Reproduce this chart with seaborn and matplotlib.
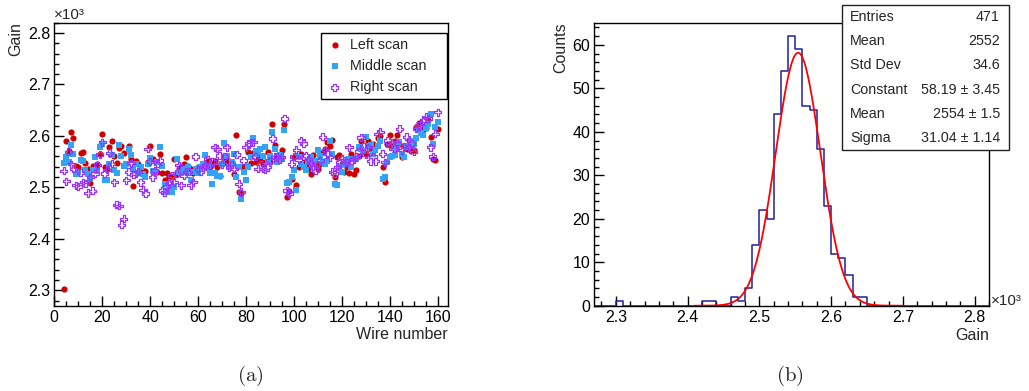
import numpy as np
import pandas as pd
import matplotlib
matplotlib.use("Agg")
import matplotlib.pyplot as plt
import seaborn as sns
from matplotlib.ticker import MultipleLocator, FuncFormatter
from matplotlib.patches import Rectangle

# ---------------- data ----------------
wires = list(range(4, 161))

left_gain = [
    2302, 2590, 2570, 2607, 2596, 2541, 2539, 2566, 2569, 2548, 2536, 2508, 2541, 2540, 2545, 2564, 2604,
    2539, 2535, 2578, 2590, 2560, 2547, 2577, 2580, 2567, 2545, 2580, 2556, 2503, 2551, 2545, 2530, 2532,
    2532, 2550, 2581, 2556, 2530, 2530, 2564, 2527, 2515, 2527, 2522, 2520, 2556, 2525, 2536, 2540, 2545,
    2559, 2541, 2535, 2527, 2535, 2539, 2540, 2545, 2548, 2552, 2540, 2546, 2551, 2540, 2523, 2547, 2559,
    2549, 2552, 2549, 2525, 2601, 2491, 2489, 2540, 2541, 2569, 2547, 2567, 2549, 2555, 2554, 2545, 2549,
    2569, 2549, 2624, 2582, 2560, 2556, 2573, 2624, 2481, 2493, 2517, 2559, 2505, 2540, 2564, 2550, 2543,
    2535, 2525, 2562, 2550, 2536, 2545, 2569, 2575, 2588, 2580, 2593, 2520, 2559, 2562, 2545, 2530, 2540,
    2527, 2564, 2525, 2534, 2560, 2591, 2570, 2565, 2591, 2575, 2585, 2580, 2595, 2599, 2539, 2510, 2585,
    2601, 2580, 2591, 2601, 2585, 2559, 2580, 2575, 2593, 2570, 2572, 2617, 2625, 2610, 2614, 2616, 2630,
    2598, 2556, 2554, 2614,
]

middle_gain = [
    2548, 2559, 2549, 2582, 2564, 2525, 2530, 2554, 2552, 2533, 2525, 2517, 2534, 2559, 2532, 2578, 2585,
    2514, 2515, 2546, 2562, 2534, 2528, 2582, 2560, 2541, 2546, 2575, 2562, 2535, 2546, 2527, 2539, 2525,
    2520, 2545, 2558, 2532, 2527, 2550, 2578, 2541, 2507, 2491, 2500, 2491, 2500, 2556, 2530, 2527, 2535,
    2530, 2540, 2515, 2530, 2535, 2527, 2540, 2545, 2562, 2540, 2527, 2507, 2527, 2523, 2523, 2545, 2586,
    2560, 2539, 2550, 2565, 2521, 2540, 2478, 2530, 2515, 2540, 2559, 2595, 2570, 2564, 2575, 2560, 2578,
    2550, 2561, 2608, 2575, 2549, 2562, 2555, 2612, 2508, 2510, 2520, 2534, 2494, 2559, 2545, 2540, 2534,
    2550, 2559, 2545, 2552, 2572, 2560, 2550, 2546, 2552, 2591, 2565, 2507, 2504, 2540, 2530, 2545, 2549,
    2555, 2539, 2556, 2556, 2578, 2575, 2570, 2598, 2580, 2582, 2565, 2572, 2580, 2591, 2517, 2520, 2550,
    2559, 2560, 2562, 2575, 2588, 2565, 2559, 2578, 2580, 2591, 2585, 2595, 2611, 2605, 2601, 2615, 2624,
    2642, 2585, 2617, 2627,
]

right_gain = [
    2532, 2512, 2569, 2545, 2536, 2504, 2502, 2528, 2510, 2508, 2489, 2520, 2493, 2527, 2543, 2564, 2588,
    2527, 2534, 2567, 2546, 2510, 2466, 2464, 2427, 2439, 2514, 2530, 2547, 2525, 2527, 2530, 2510, 2495,
    2488, 2575, 2550, 2520, 2533, 2546, 2552, 2494, 2491, 2502, 2508, 2523, 2510, 2527, 2543, 2504, 2523,
    2530, 2530, 2504, 2510, 2560, 2535, 2530, 2539, 2540, 2554, 2543, 2550, 2578, 2575, 2562, 2545, 2560,
    2578, 2539, 2545, 2536, 2564, 2507, 2491, 2552, 2578, 2585, 2588, 2588, 2560, 2536, 2545, 2536, 2534,
    2539, 2552, 2595, 2559, 2560, 2554, 2559, 2634, 2494, 2488, 2546, 2560, 2573, 2554, 2591, 2585, 2562,
    2555, 2547, 2540, 2532, 2545, 2552, 2598, 2572, 2565, 2559, 2530, 2527, 2540, 2549, 2556, 2552, 2549,
    2578, 2552, 2555, 2559, 2570, 2597, 2580, 2564, 2578, 2551, 2560, 2551, 2604, 2608, 2565, 2549, 2591,
    2580, 2588, 2575, 2585, 2614, 2572, 2580, 2598, 2578, 2585, 2569, 2614, 2620, 2624, 2630, 2637, 2634,
    2578, 2560, 2604, 2646,
]

series_names = ["Left scan", "Middle scan", "Right scan"]

# histogram (bin width 10, range 2270-2820): low edges of non-empty bins and their counts
hist_bin_low = [2300, 2420, 2430, 2460, 2470, 2480, 2490, 2500, 2510, 2520, 2530,
                2540, 2550, 2560, 2570, 2580, 2590, 2600, 2610, 2620, 2630, 2640]
hist_counts = [1, 1, 1, 2, 1, 4, 14, 22, 20, 44, 54,
               62, 59, 46, 45, 36, 23, 12, 11, 7, 2, 2]
hist_min, hist_max, hist_width = 2270, 2820, 10

# fit parameters
fit_constant, fit_mean, fit_sigma = 58.19, 2554.0, 31.04
fit_lo, fit_hi = 2410, 2700

stats_labels = ["Entries", "Mean", "Std Dev", "Constant", "Mean", "Sigma"]
stats_values = ["471", "2552", "34.6", "58.19 \u00b1 3.45", "2554 \u00b1 1.5", "31.04 \u00b1 1.14"]

# ---------------- style ----------------
sns.set_style("white")
plt.rcParams["font.family"] = ["Liberation Sans", "DejaVu Sans"]
plt.rcParams["mathtext.fontset"] = "cm"

W, H = 1029, 391
fig = plt.figure(figsize=(W / 100, H / 100), dpi=100)

def fx(px):
    return px / W

def fy(py):
    return 1 - py / H

ax1 = fig.add_axes([fx(54.3), fy(305.7), fx(448 - 54.3), (305.7 - 22.7) / H])
ax2 = fig.add_axes([fx(594.3), fy(305.7), fx(989 - 594.3), (305.7 - 22.7) / H])

red = "#cc0000"
blue = "#33a3f5"
violet = "#9933ff"

df = pd.DataFrame({"wire": wires, "left": left_gain, "middle": middle_gain, "right": right_gain})

sns.scatterplot(data=df, x="wire", y="left", marker="o", color=red, s=20, linewidth=0,
                label=series_names[0], ax=ax1, zorder=3)
sns.scatterplot(data=df, x="wire", y="middle", marker="s", color=blue, s=16, linewidth=0,
                label=series_names[1], ax=ax1, zorder=4)
sns.scatterplot(data=df, x="wire", y="right", marker="P", facecolor="none", edgecolor=violet,
                s=26, linewidth=0.9, label=series_names[2], ax=ax1, zorder=5)

ax1.set_xlim(0, 164.3)
ax1.set_ylim(2270, 2820)
ax1.set_xlabel("")
ax1.set_ylabel("")

# histogram
hdf = pd.DataFrame({"center": np.array(hist_bin_low, dtype=float) + hist_width / 2,
                    "count": np.array(hist_counts, dtype=float)})
sns.histplot(data=hdf, x="center", weights="count", binwidth=hist_width,
             binrange=(hist_min, hist_max), element="step", fill=False,
             color="#1f1f9f", linewidth=1.1, ax=ax2)
xs = np.linspace(fit_lo, fit_hi, 400)
ys = fit_constant * np.exp(-0.5 * ((xs - fit_mean) / fit_sigma) ** 2)
sns.lineplot(x=xs, y=ys, color="#ff0000", linewidth=1.3, ax=ax2)
ax2.set_xlim(hist_min, hist_max)
ax2.set_ylim(0, 65.1)
ax2.set_xlabel("")
ax2.set_ylabel("")

fmt = FuncFormatter(lambda v, p: f"{v / 1000:.1f}")
for ax in (ax1, ax2):
    for s in ax.spines.values():
        s.set_visible(True)
        s.set_color("black")
        s.set_linewidth(1.0)
    ax.tick_params(which="both", direction="in", top=False, right=False, left=True, bottom=True,
                   colors="black", labelsize=11.5)
    ax.tick_params(which="major", length=7.5, width=1.0)
    ax.tick_params(which="minor", length=3.8, width=1.0)
    ax.tick_params(axis="x", pad=3)
    ax.tick_params(axis="y", pad=3)
    ax.grid(False)

ax1.xaxis.set_major_locator(MultipleLocator(20))
ax1.xaxis.set_minor_locator(MultipleLocator(5))
ax1.yaxis.set_major_locator(MultipleLocator(100))
ax1.yaxis.set_minor_locator(MultipleLocator(20))
ax1.yaxis.set_major_formatter(fmt)

ax2.xaxis.set_major_locator(MultipleLocator(100))
ax2.xaxis.set_minor_locator(MultipleLocator(20))
ax2.xaxis.set_major_formatter(fmt)
ax2.yaxis.set_major_locator(MultipleLocator(10))
ax2.yaxis.set_minor_locator(MultipleLocator(2))

# legend
leg = ax1.legend(loc="upper left", bbox_to_anchor=(fx(321), fy(96), fx(447 - 321), (96 - 33) / H),
                 bbox_transform=fig.transFigure, mode="expand", borderaxespad=0, frameon=True,
                 fancybox=False, framealpha=1, edgecolor="black", fontsize=10.3,
                 handlelength=1.2, handletextpad=0.5, borderpad=0.35, labelspacing=0.5)
leg.get_frame().set_linewidth(1.0)

# axis titles
fig.text(fx(16), fy(22), "Gain", rotation=90, ha="center", va="top", fontsize=11.5)
fig.text(fx(448), fy(327), "Wire number", ha="right", va="top", fontsize=11.5)
fig.text(fx(561), fy(22), "Counts", rotation=90, ha="center", va="top", fontsize=11.5)
fig.text(fx(989), fy(328), "Gain", ha="right", va="top", fontsize=11.5)
fig.text(fx(54), fy(19), "\u00d710\u00b3", ha="left", va="baseline", fontsize=11)
fig.text(fx(991), fy(305), "\u00d710\u00b3", ha="left", va="baseline", fontsize=11)

# stats box
fig.patches.append(Rectangle((fx(842), fy(150)), fx(1009 - 842), (150 - 5) / H,
                             transform=fig.transFigure, facecolor="white", edgecolor="#222222",
                             linewidth=1.0, zorder=5))
row_y = [17, 41, 65, 90, 114, 138]
for lab, val, yy in zip(stats_labels, stats_values, row_y):
    fig.text(fx(850), fy(yy), lab, ha="left", va="center", fontsize=10.3, zorder=6)
    fig.text(fx(1000), fy(yy), val, ha="right", va="center", fontsize=10.3, zorder=6)

# captions
fig.text(fx(250), fy(376), r"$\mathrm{(a)}$", ha="center", va="center", fontsize=15)
fig.text(fx(790), fy(376), r"$\mathrm{(b)}$", ha="center", va="center", fontsize=15)

fig.savefig("out.png", dpi=100)
